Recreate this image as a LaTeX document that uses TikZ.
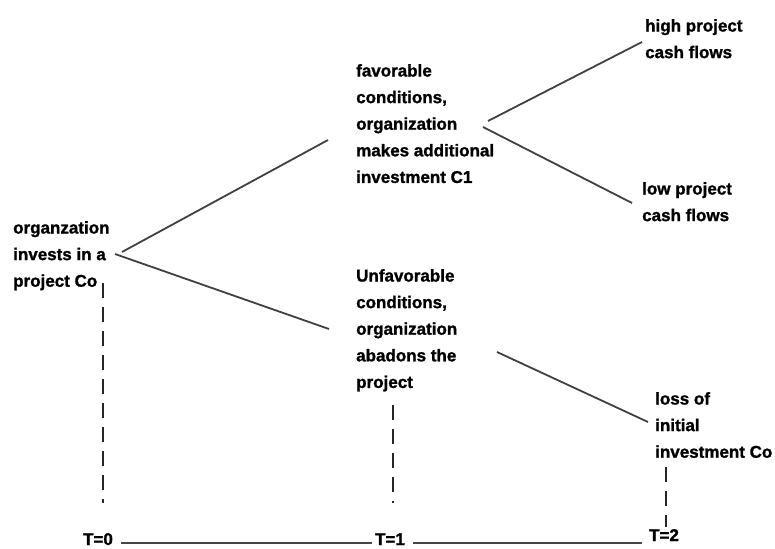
\documentclass[tikz,border=0pt]{standalone}
\usepackage{fontspec}
\setmainfont{Liberation Sans}
\newfontfamily\heavyfont{Liberation Sans}[BoldFeatures={FakeBold=1.3}]
\begin{document}
\begin{tikzpicture}[x=1pt,y=-1pt,
  lbl/.style={anchor=north west,inner sep=0pt,align=left,
    font=\heavyfont\bfseries\fontsize{17}{26.6}\selectfont,
    execute at begin node={\rule{0pt}{12pt}}},
  tlbl/.style={anchor=base,inner sep=0pt,font=\heavyfont\bfseries\fontsize{17}{20}\selectfont},
  branch/.style={draw=black!75,line width=1.8pt},
  tline/.style={draw=black!72,line width=1.8pt},
  guide/.style={draw=black!85,line width=1.3pt,dash pattern=on 15pt off 9pt}]
\useasboundingbox (0,0) rectangle (775,548);
% texts
\node[lbl] (root) at (13,221) {organzation\\invests in a\\project Co};
\node[lbl] (fav) at (356,64) {favorable\\conditions,\\organization\\makes additional\\investment C1};
\node[lbl] (high) at (645,19) {high project\\cash flows};
\node[lbl] (low) at (642,182) {low project\\cash flows};
\node[lbl] (unf) at (356,269) {Unfavorable\\conditions,\\organization\\abadons the\\project};
\node[lbl] (loss) at (655,392) {loss of\\initial\\investment Co};
\node[tlbl] (t0) at (98,545) {T=0};
\node[tlbl] (t1) at (390,545) {T=1};
\node[tlbl] (t2) at (664,541) {T=2};
% branch end points
\coordinate (r1) at (122,252);
\coordinate (r2) at (115,254);
\coordinate (f1) at (328,140);
\coordinate (u1) at (329,329);
\coordinate (f2) at (488,121);
\coordinate (f3) at (483,127);
\coordinate (h1) at (642,42);
\coordinate (l1) at (632,203);
\coordinate (u2) at (497,352);
\coordinate (ls1) at (648,422);
\draw[branch] (r1) -- (f1);
\draw[branch] (r2) -- (u1);
\draw[branch] (f2) -- (h1);
\draw[branch] (f3) -- (l1);
\draw[branch] (u2) -- (ls1);
% guides
\coordinate (g0a) at (103,283);
\coordinate (g0b) at (103,503);
\coordinate (g1a) at (393,405);
\coordinate (g1b) at (393,503);
\coordinate (g2a) at (666,467);
\coordinate (g2b) at (666,527);
\draw[guide] (g0a) -- (g0b);
\draw[guide] (g1a) -- (g1b);
\draw[guide] (g2a) -- (g2b);
% timeline
\coordinate (a0) at (121,543);
\coordinate (a1) at (372,543);
\coordinate (b0) at (413,543);
\coordinate (b1) at (642,543);
\draw[tline] (a0) -- (a1);
\draw[tline] (b0) -- (b1);
\end{tikzpicture}
\end{document}
